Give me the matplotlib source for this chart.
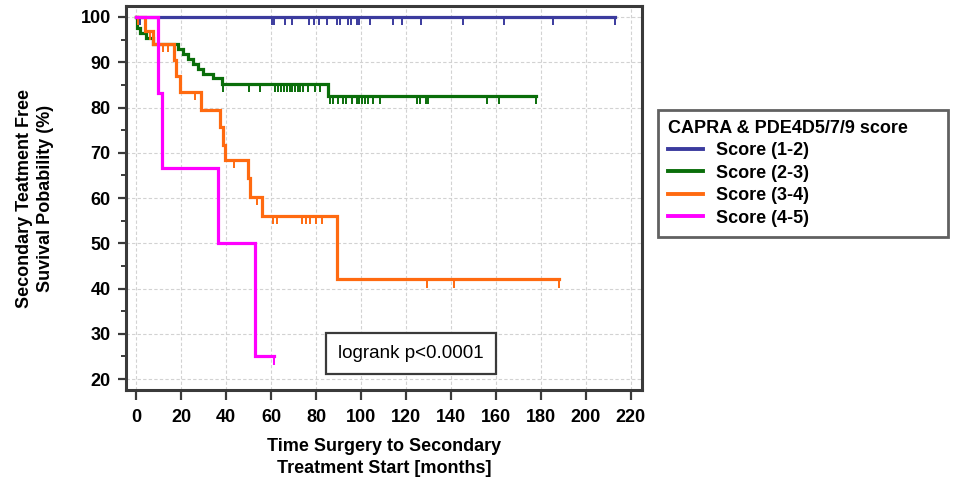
import numpy as np
import matplotlib
matplotlib.use("Agg")
import matplotlib.pyplot as plt
from matplotlib.ticker import MultipleLocator

plt.rcParams['font.family'] = ['Liberation Sans', 'DejaVu Sans']

# Kaplan-Meier step data (months, survival %)
labels = ["Score (1-2)", "Score (2-3)", "Score (3-4)", "Score (4-5)"]
colors = ["#3b3b9e", "#0a6e0a", "#ff6a10", "#ff00ff"]

s12_t = [0]
s12_s = [100]
s12_end = 212.9
s12_cens = [1.6, 60.3, 61.2, 66.2, 69.2, 76.9, 79.1, 81.3, 84.9, 89.5, 90.9,
            94.4, 95.4, 98.1, 99.2, 103.8, 114.4, 118.1, 126.5, 145.5, 163.6,
            185.2, 212.9]

s23_t = [0, 0.4, 1.6, 4.4, 7.7, 18.7, 20.9, 23.1, 25.3, 27.6, 29.8, 34.2, 38.3, 85.5]
s23_s = [100, 97.5, 96.4, 95.3, 94.0, 92.9, 91.8, 90.7, 89.6, 88.5, 87.4, 86.5, 85.3, 82.6]
s23_end = 178.0
s23_cens = [38.5, 50.2, 55.1, 62.0, 63.2, 64.4, 65.8, 67.2, 68.3, 69.5, 70.6,
            71.8, 73.0, 74.4, 76.5, 79.5, 82.0, 86.2, 87.7, 89.9, 92.1, 93.3,
            95.9, 98.1, 99.3, 100.3, 101.8, 103.3, 105.5, 108.4, 124.7, 126.2,
            128.9, 129.9, 155.9, 161.5, 178.0]

s34_t = [0, 4.0, 7.6, 16.7, 17.8, 19.6, 28.8, 37.3, 38.8, 39.6, 49.9, 50.7, 55.8, 89.2]
s34_s = [100, 96.8, 94.0, 90.5, 87.0, 83.4, 79.4, 75.8, 71.7, 68.4, 64.4, 60.3, 56.0, 42.0]
s34_end = 188.0
s34_cens = [0.8, 6.1, 12.0, 14.2, 26.2, 43.6, 53.6, 60.7, 62.8, 73.6, 75.6,
            77.3, 80.0, 82.5, 129.5, 141.5, 188.0]

s45_t = [0, 9.9, 11.4, 36.6, 52.9]
s45_s = [100, 83.3, 66.7, 50.0, 25.0]
s45_end = 61.5
s45_cens = [61.5]

groups = [
    (s12_t, s12_s, s12_end, s12_cens),
    (s23_t, s23_s, s23_end, s23_cens),
    (s34_t, s34_s, s34_end, s34_cens),
    (s45_t, s45_s, s45_end, s45_cens),
]

fig = plt.figure(figsize=(9.59, 4.84), dpi=100)
ax = fig.add_axes([0.1314, 0.1942, 0.538, 0.7934])

ax.set_xlim(-4.44, 224.9)
ax.set_ylim(17.57, 102.43)

ax.xaxis.set_major_locator(MultipleLocator(20))
ax.yaxis.set_major_locator(MultipleLocator(10))
ax.yaxis.set_minor_locator(MultipleLocator(5))
ax.grid(True, which='major', color='#d2d2d2', linestyle=(0, (3, 2)), linewidth=0.8)
ax.set_axisbelow(True)

tick_len = 1.8  # length of censor marks in survival units
for (t, s, end, cens), col, lab in zip(groups, colors, labels):
    tt = list(t) + [end]
    ss = list(s) + [s[-1]]
    ax.step(tt, ss, where='post', color=col, lw=2.3, label=lab, solid_joinstyle='miter')
    idx = np.searchsorted(np.asarray(t), np.asarray(cens), side='right') - 1
    cy = np.asarray(s)[idx]
    ax.vlines(cens, cy, cy - tick_len, color=col, lw=1.4)

for sp in ax.spines.values():
    sp.set_color('#3a3a3a')
    sp.set_linewidth(2.2)

ax.tick_params(axis='both', which='major', direction='out', length=6,
               width=1.6, color='#3a3a3a', labelsize=13, pad=5)
ax.tick_params(axis='x', which='major', length=7, pad=7)
ax.tick_params(axis='y', which='minor', direction='out', length=3.5,
               width=1.4, color='#3a3a3a')
for lbl in ax.get_xticklabels() + ax.get_yticklabels():
    lbl.set_fontweight('bold')

ax.set_xlabel("Time Surgery to Secondary\nTreatment Start [months]",
              fontsize=13, fontweight='bold', labelpad=8, linespacing=1.45)
ax.set_ylabel("Secondary Teatment Free\nSuvival Pobability (%)",
              fontsize=13, fontweight='bold', labelpad=19, linespacing=1.3)

ax.text(122.2, 25.7, "logrank p<0.0001", fontsize=13.5, ha='center', va='center',
        bbox=dict(boxstyle='square,pad=0.65', facecolor='white',
                  edgecolor='#3a3a3a', linewidth=1.6))

leg = fig.legend(loc='upper left', bbox_to_anchor=(0.686, 0.5124, 0.3025, 0.2603),
                 mode='expand', borderaxespad=0,
                 title="CAPRA & PDE4D5/7/9 score",
                 title_fontproperties={'weight': 'bold', 'size': 13},
                 prop={'weight': 'bold', 'size': 13},
                 frameon=True, fancybox=False, edgecolor='#3a3a3a',
                 handlelength=1.95, handletextpad=0.7, labelspacing=0.3,
                 borderpad=0.55, alignment='left')
leg.get_frame().set_linewidth(2.0)
for h in leg.legend_handles:
    h.set_linewidth(2.8)

fig.savefig("out.png", dpi=100)
